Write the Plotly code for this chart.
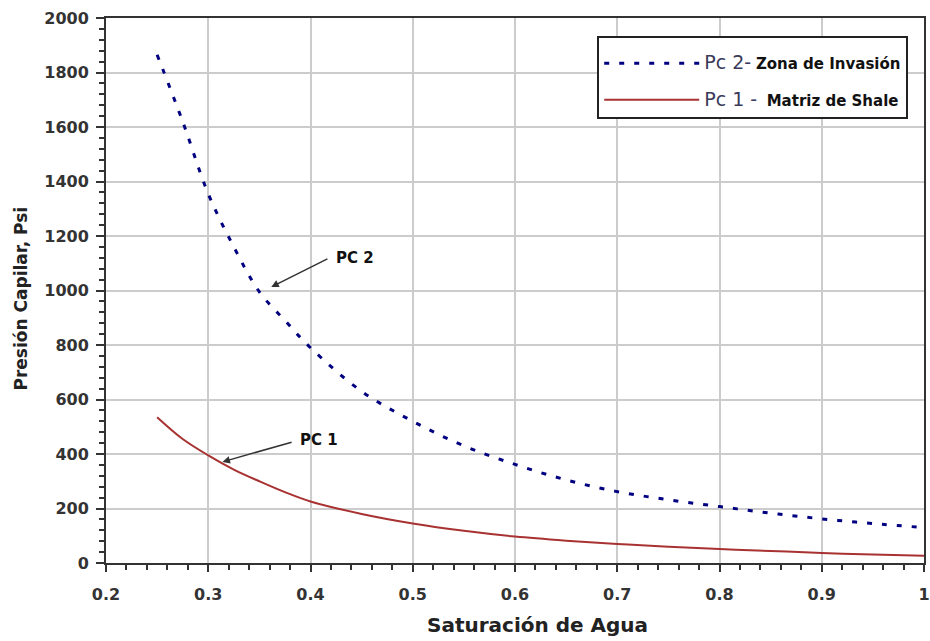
import plotly.graph_objects as go

# Water saturation (x) and capillary pressure values
sw_pc2 = [0.25, 0.275, 0.30, 0.325, 0.35, 0.375, 0.40, 0.45, 0.50, 0.55, 0.60, 0.65, 0.70, 0.75, 0.80, 0.85, 0.90, 0.95, 1.00]
pc2 = [1865, 1620, 1355, 1160, 995, 890, 790, 630, 520, 430, 362, 305, 262, 232, 207, 183, 162, 145, 130]

sw_pc1 = [0.25, 0.275, 0.30, 0.325, 0.35, 0.375, 0.40, 0.45, 0.50, 0.55, 0.60, 0.65, 0.70, 0.75, 0.80, 0.85, 0.90, 0.95, 1.00]
pc1 = [535, 455, 395, 343, 300, 260, 226, 180, 145, 118, 97, 82, 70, 60, 51, 44, 37, 31, 27]

x_ticks = [0.2, 0.3, 0.4, 0.5, 0.6, 0.7, 0.8, 0.9, 1.0]
x_tick_labels = ["0.2", "0.3", "0.4", "0.5", "0.6", "0.7", "0.8", "0.9", "1"]
y_ticks = [0, 200, 400, 600, 800, 1000, 1200, 1400, 1600, 1800, 2000]

x_title = "Saturación de Agua"
y_title = "Presión Capilar, Psi"

FONT = "DejaVu Sans, Liberation Sans, Arial"

name_pc2 = ("<span style='font-size:19px;color:#3a3a5a'>Pc 2-</span> "
            "<b>Zona de Invasión</b>")
name_pc1 = ("<span style='font-size:19px;color:#3a3a5a'>Pc 1 -</span>&nbsp; "
            "<b>Matriz de Shale</b>")

fig = go.Figure()
fig.add_trace(go.Scatter(x=sw_pc2, y=pc2, mode="lines", name=name_pc2, legendgroup="a",
                         line=dict(color="#000080", width=3, dash="5px,10px", shape="spline")))
fig.add_trace(go.Scatter(x=sw_pc1, y=pc1, mode="lines", name=name_pc1, legendgroup="b",
                         line=dict(color="#a83232", width=2, shape="spline")))

fig.add_annotation(x=0.3616, y=1013, ax=0.418, ay=1119, axref="x", ayref="y", xref="x", yref="y",
                   text="", showarrow=True, arrowhead=2, arrowsize=1, arrowwidth=1.5, arrowcolor="#333")
fig.add_annotation(x=0.418, y=1119, xref="x", yref="y", text="<b>PC 2</b>", showarrow=False,
                   xanchor="left", yanchor="middle", xshift=5,
                   font=dict(family=FONT, size=15, color="#111"))
fig.add_annotation(x=0.3139, y=371, ax=0.383, ay=445, axref="x", ayref="y", xref="x", yref="y",
                   text="", showarrow=True, arrowhead=2, arrowsize=1, arrowwidth=1.5, arrowcolor="#333")
fig.add_annotation(x=0.383, y=450, xref="x", yref="y", text="<b>PC 1</b>", showarrow=False,
                   xanchor="left", yanchor="middle", xshift=5,
                   font=dict(family=FONT, size=15, color="#111"))

# Axis titles placed as paper-anchored text
fig.add_annotation(x=0.528, y=0, xref="paper", yref="paper", yshift=-62, text="<b>" + x_title + "</b>",
                   showarrow=False, xanchor="center", yanchor="middle",
                   font=dict(family=FONT, size=20, color="#222"))
fig.add_annotation(x=0, y=0.5, xref="paper", yref="paper", xshift=-86, yshift=-8, text="<b>" + y_title + "</b>",
                   showarrow=False, xanchor="center", yanchor="middle", textangle=-90,
                   font=dict(family=FONT, size=17, color="#222"))

tickfont = dict(family=FONT, size=16, color="#333", weight="bold")
fig.update_layout(
    width=930, height=641,
    margin=dict(l=106, r=6, t=18, b=78),
    paper_bgcolor="white", plot_bgcolor="white",
    font=dict(family=FONT, color="#111"),
    showlegend=True,
    legend=dict(x=0.6005, y=0.967, xanchor="left", yanchor="top",
                bgcolor="white", bordercolor="#222", borderwidth=2,
                font=dict(family=FONT, size=15, color="#111"),
                title=dict(text=" ", font=dict(size=7)),
                tracegroupgap=14, itemwidth=95),
    xaxis=dict(range=[0.2, 1.0], tickvals=x_ticks, ticktext=x_tick_labels, automargin=False,
               showgrid=True, gridcolor="#cccccc", gridwidth=2,
               showline=True, linecolor="#333", linewidth=2, mirror=True,
               ticks="outside", ticklen=7, tickwidth=2, tickcolor="#333",
               minor=dict(dtick=0.02, ticks="outside", ticklen=5, tickwidth=2, tickcolor="#333", showgrid=False),
               tickfont=tickfont, ticklabelstandoff=9,
               zeroline=False),
    yaxis=dict(range=[0, 2000], tickvals=y_ticks, automargin=False,
               showgrid=True, gridcolor="#cccccc", gridwidth=2,
               showline=True, linecolor="#333", linewidth=2, mirror=True,
               ticks="outside", ticklen=8, tickwidth=2, tickcolor="#333",
               minor=dict(dtick=40, ticks="outside", ticklen=5, tickwidth=1.5, tickcolor="#333", showgrid=False),
               tickfont=tickfont, ticklabelstandoff=4,
               zeroline=False),
)

fig.write_html("out.html", config={"displayModeBar": False},
               post_script="document.body.style.margin='0px';")
